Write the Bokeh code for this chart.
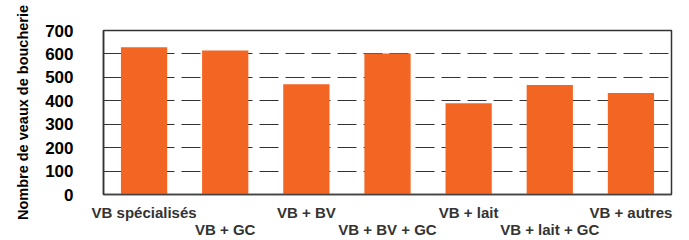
from bokeh.plotting import figure
from bokeh.models import LinearAxis, FixedTicker, Title
from bokeh.embed import file_html
from bokeh.resources import INLINE

categories = ["VB spécialisés", "VB + GC", "VB + BV", "VB + BV + GC",
              "VB + lait", "VB + lait + GC", "VB + autres"]
values = [628, 615, 471, 602, 390, 467, 433]
y_ticks = [0, 100, 200, 300, 400, 500, 600, 700]
y_title = "Nombre de veaux de boucherie"

FONT = "Liberation Sans"
BAR = "#F26522"

xpos = list(range(len(categories)))
labels = dict(zip(xpos, categories))

p = figure(x_range=(-0.5, len(categories) - 0.5), y_range=(0, 700),
           width=689, height=240,
           output_backend="svg", toolbar_location=None,
           min_border_left=103, min_border_right=18, min_border_top=30,
           min_border_bottom=2)
p.vbar(x=xpos, top=values, width=0.57, color=BAR, line_color=None)

p.background_fill_color = "white"
p.border_fill_color = "white"
p.outline_line_color = "#333333"
p.outline_line_width = 1.5

p.xgrid.grid_line_color = None
p.ygrid.grid_line_color = "#333333"
p.ygrid.grid_line_dash = "19 7"
p.ygrid.grid_line_width = 1
p.ygrid.ticker = FixedTicker(ticks=y_ticks)

p.yaxis.ticker = FixedTicker(ticks=y_ticks)
p.yaxis.major_tick_line_color = None
p.yaxis.major_tick_out = 0
p.yaxis.minor_tick_line_color = None
p.yaxis.major_label_standoff = 30
p.yaxis.major_label_text_font = FONT
p.yaxis.major_label_text_font_style = "bold"
p.yaxis.major_label_text_font_size = "17px"
p.yaxis.major_label_text_color = "black"
p.yaxis.major_label_text_baseline = "alphabetic"
p.yaxis.axis_line_color = "#333333"
p.yaxis.axis_line_width = 1.5

xa = p.xaxis[0]
xa.ticker = FixedTicker(ticks=xpos[0::2])
xa.major_label_overrides = {k: labels[k] for k in xpos[0::2]}
xa.major_tick_line_color = None
xa.major_tick_out = 0
xa.minor_tick_line_color = None
xa.axis_line_color = "#444444"
xa.axis_line_width = 1.5
xa.major_label_standoff = 9
xa.major_label_text_font = FONT
xa.major_label_text_font_style = "bold"
xa.major_label_text_font_size = "15px"
xa.major_label_text_color = "#333333"

xb = LinearAxis(ticker=FixedTicker(ticks=xpos[1::2]))
xb.major_label_overrides = {k: labels[k] for k in xpos[1::2]}
xb.major_tick_line_color = None
xb.major_tick_out = 0
xb.minor_tick_line_color = None
xb.axis_line_color = None
xb.major_label_standoff = -3
xb.major_label_text_font = FONT
xb.major_label_text_font_style = "bold"
xb.major_label_text_font_size = "15px"
xb.major_label_text_color = "#333333"
p.add_layout(xb, "below")

t = Title(text=y_title, align="center", text_font=FONT,
          text_font_style="bold", text_font_size="14.5px", text_color="black",
          standoff=23)
p.add_layout(t, "left")

open("out.html", "w").write(file_html(p, INLINE))
